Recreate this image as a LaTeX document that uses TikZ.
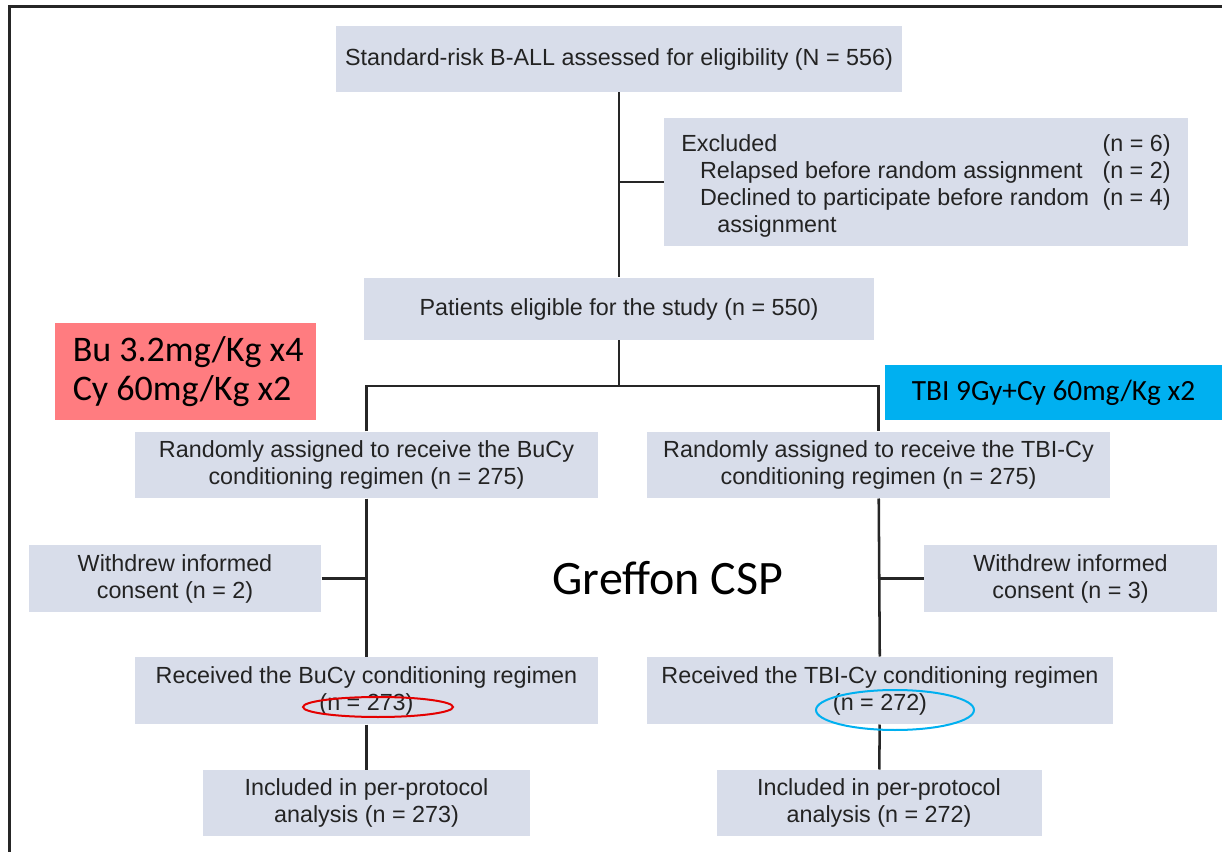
\documentclass[tikz,border=0pt]{standalone}
\usepackage{fontspec}
\setmainfont{Liberation Sans}
\newfontfamily\calibri{Carlito}

\definecolor{boxgrey}{RGB}{216,221,234}
\definecolor{txtgrey}{RGB}{35,35,35}
\definecolor{bured}{RGB}{255,124,128}
\definecolor{tbiblue}{RGB}{0,176,240}
\definecolor{ovalred}{RGB}{228,0,0}

\tikzset{every picture/.style={line width=0.75pt}}
\tikzset{
  fbox/.style={fill=boxgrey, text=txtgrey, align=center, inner sep=0pt,
    font=\fontsize{17.5}{20.25}\selectfont},
  regbox/.style={text=black, inner sep=0pt, align=left},
  link/.style={line width=1.9pt, draw=black!85},
  oval/.style={line width=1.5pt}
}

\begin{document}
\begin{tikzpicture}[x=0.75pt,y=0.75pt,yscale=-1,xscale=1]
\useasboundingbox (0,0) rectangle (1222,852);

%Frame
\draw [line width=2.2pt, black!85] (9.5,852) -- (9.5,6.5) -- (1222,6.5);

%Flow boxes
\node [fbox, minimum width=424.5pt, minimum height=49.5pt] (assess) at (619,59)
  {Standard-risk B-ALL assessed for eligibility (N = 556)};
\node [fbox, minimum width=393pt, minimum height=96pt] (excl) at (926,182)
  {\begin{tabular*}{367pt}{@{}l@{\extracolsep{\fill}}r@{}}
   \rule{0pt}{21.7pt}Excluded & (n = 6)\\
   \hspace{14pt}Relapsed before random assignment & (n = 2)\\
   \hspace{14pt}Declined to participate before random & (n = 4)\\
   \hspace{27pt}assignment &
   \end{tabular*}};
\node [fbox, minimum width=382.5pt, minimum height=46.5pt] (elig) at (619,309)
  {Patients eligible for the study (n = 550)};
\node [fbox, minimum width=347.25pt, minimum height=49.5pt] (rndL) at (366.5,465)
  {Randomly assigned to receive the BuCy\\conditioning regimen (n = 275)};
\node [fbox, minimum width=347.25pt, minimum height=49.5pt] (rndR) at (878.5,465)
  {Randomly assigned to receive the TBI-Cy\\conditioning regimen (n = 275)};
\node [fbox, minimum width=219pt, minimum height=50.25pt] (wdL) at (175,578.5)
  {Withdrew informed\\consent (n = 2)};
\node [fbox, minimum width=219.75pt, minimum height=50.25pt] (wdR) at (1070.5,578.5)
  {Withdrew informed\\consent (n = 3)};
\node [fbox, minimum width=347.25pt, minimum height=50.25pt] (recL) at (366.5,690.5)
  {Received the BuCy conditioning regimen\\(n = 273)};
\node [fbox, minimum width=349.5pt, minimum height=50.25pt] (recR) at (880,690.5)
  {Received the TBI-Cy conditioning regimen\\(n = 272)};
\node [fbox, minimum width=245.25pt, minimum height=49.5pt] (incL) at (366.5,803)
  {Included in per-protocol\\analysis (n = 273)};
\node [fbox, minimum width=243.75pt, minimum height=49.5pt] (incR) at (879,803)
  {Included in per-protocol\\analysis (n = 272)};

%Regimen notes
\node [regbox, fill=bured, minimum width=195.75pt, minimum height=72.75pt,
  font=\calibri\fontsize{27}{29}\selectfont] (bucy) at (185.5,371.5)
  {\hspace{4pt}Bu 3.2mg/Kg x4\\\hspace{4pt}Cy 60mg/Kg x2};
\node [regbox, fill=tbiblue, minimum width=252.75pt, minimum height=41.25pt,
  font=\calibri\fontsize{22}{26}\selectfont] (tbicy) at (1053.5,392.5)
  {TBI 9Gy+Cy 60mg/Kg x2};

% Text Node
\node [font=\calibri\fontsize{36}{40}\selectfont] (csp) at (668,578) {Greffon CSP};

%Connectors
\coordinate (split) at (619,386);
\draw [link] (assess) -- (elig);
\draw [link] (assess |- excl) -- (excl.west);
\draw [link] (elig) -- (split);
\draw [link] (rndL.north) |- (split) -| (rndR.north);
\draw [link] (rndL) -- (recL);
\draw [link] (rndR) -- (recR);
\draw [link] (wdL.east) -- (wdL.east -| rndL);
\draw [link] (wdR.west) -- (wdR.west -| rndR);
\draw [link] (recL) -- (incL);
\draw [link] (recR) -- (incR);

%Highlight ovals
\draw [oval, ovalred] (378,707) ellipse (75 and 10);
\draw [oval, tbiblue] (895,710) ellipse (79 and 20);

\end{tikzpicture}
\end{document}
